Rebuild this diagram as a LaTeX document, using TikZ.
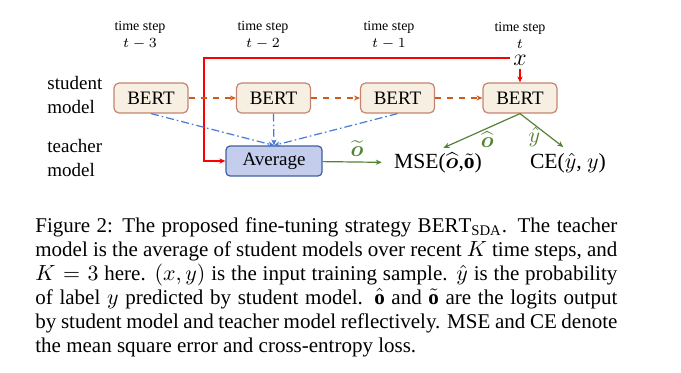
\documentclass[tikz,border=0pt]{standalone}
\usepackage{pgf}
\usepackage{tikz}
\usepackage{amsmath}
\usepackage{fontspec}
\setmainfont{Liberation Serif}
\usetikzlibrary{arrows.meta}
\hyphenpenalty=10000

\definecolor{bertfill}{RGB}{246,239,226}
\definecolor{bertdraw}{RGB}{198,132,112}
\definecolor{avgfill}{RGB}{196,206,236}
\definecolor{avgdraw}{RGB}{62,94,162}
\definecolor{floworange}{RGB}{204,92,30}
\definecolor{flowblue}{RGB}{72,122,212}
\definecolor{flowgreen}{RGB}{84,130,53}

\begin{document}
\begin{tikzpicture}[x=0.5pt,y=-0.5pt,>={Stealth[length=3pt,width=2.6pt]}]
      \tikzstyle{student}=[rectangle,draw=bertdraw,fill=bertfill,line width=0.6pt,rounded corners=2.5pt,minimum width=37pt,minimum height=15pt,font=\fontsize{9.5}{11}\selectfont]
      \tikzstyle{teacher}=[rectangle,draw=avgdraw,fill=avgfill,line width=0.6pt,rounded corners=2pt,minimum width=48pt,minimum height=13pt,font=\fontsize{9.5}{11}\selectfont]
      \tikzstyle{tstep}=[align=center,font=\fontsize{7}{8.5}\selectfont]
      \tikzstyle{role}=[align=left,anchor=west,inner sep=0pt,font=\fontsize{9.5}{12}\selectfont]
      \tikzstyle{loss}=[font=\fontsize{10.8}{12}\selectfont,inner sep=1pt]
      \tikzstyle{logit}=[font=\fontsize{11}{12}\selectfont,inner sep=1pt]
      \useasboundingbox (0,0) rectangle (681,372);
      %\draw[help lines] (0,0) grid[step=50] (681,372);
      \node[tstep] (step1) at (140,35) {time step\\ $t-3$};
      \node[tstep] (step2) at (263,35) {time step\\ $t-2$};
      \node[tstep] (step3) at (389,35) {time step\\ $t-1$};
      \node[tstep] (step4) at (520,35) {time step\\ $t$};
      \node[role] (studentlbl) at (47,95) {student\\ model};
      \node[role] (teacherlbl) at (47,158) {teacher\\ model};
      \node[student] (bert1) at (151,98) {BERT};
      \node[student] (bert2) at (273.5,98) {BERT};
      \node[student] (bert3) at (397.5,98) {BERT};
      \node[student] (bert4) at (520,98) {BERT};
      \node[teacher] (avg) at (274,161) {Average};
      \node[inner sep=1.5pt,font=\fontsize{13}{14}\selectfont] (input) at (520,60) {$x$};
      \node[loss] (mse) at (438,163) {MSE($\widehat{\boldsymbol{o}}$,$\tilde{\mathbf{o}}$)};
      \node[loss] (ce) at (568,163) {CE($\hat{y}$, $y$)};
      \coordinate (redturn) at (204,58);
      \draw[->,red,line width=0.6pt] (input.west |- redturn) -- (redturn) |- (avg.west);
      \draw[->,red,line width=0.6pt] (input) -- (bert4);
      \draw[->,floworange,dashed,line width=0.6pt] (bert1) -- (bert2);
      \draw[->,floworange,dashed,line width=0.6pt] (bert2) -- (bert3);
      \draw[->,floworange,dashed,line width=0.6pt] (bert3) -- (bert4);
      \draw[->,flowblue,dash pattern=on 4pt off 1.5pt on 0.8pt off 1.5pt,line width=0.6pt] (bert1.south) -- (avg.north);
      \draw[->,flowblue,dash pattern=on 4pt off 1.5pt on 0.8pt off 1.5pt,line width=0.6pt] (bert2.south) -- (avg.north);
      \draw[->,flowblue,dash pattern=on 4pt off 1.5pt on 0.8pt off 1.5pt,line width=0.6pt] (bert3.south) -- (avg.north);
      \draw[->,flowgreen,line width=0.6pt,shorten >=5pt] (avg) -- node[logit,above=1.5pt] (tildeo) {$\widetilde{\boldsymbol{o}}$} (mse);
      \draw[->,flowgreen,line width=0.6pt,shorten >=3pt] (bert4.south) -- node[logit,pos=0.4,below=0.5pt] (hato) {$\widehat{\boldsymbol{o}}$} (mse.north);
      \draw[->,flowgreen,line width=0.6pt,shorten >=3pt] (bert4.south) -- node[logit,pos=0.3,below=0pt] (haty) {$\hat{y}$} (ce.north);
      \node[anchor=north west,inner sep=0pt,text width=291pt,align=justify,font=\fontsize{10.5}{12}\selectfont] (caption) at (35,217)
        {Figure 2: The proposed fine-tuning strategy $\mathrm{BERT}_{\mathrm{SDA}}$. The teacher\linebreak
         model is the average of student models over recent $K$ time steps, and\linebreak
         $K=3$ here. $(x,y)$ is the input training sample. $\hat{y}$ is the probability\linebreak
         of label $y$ predicted by student model. $\hat{\mathbf{o}}$ and $\tilde{\mathbf{o}}$ are the logits output\linebreak
         by student model and teacher model reflectively. MSE and CE denote\linebreak
         the mean square error and cross-entropy loss.};
\end{tikzpicture}
\end{document}
